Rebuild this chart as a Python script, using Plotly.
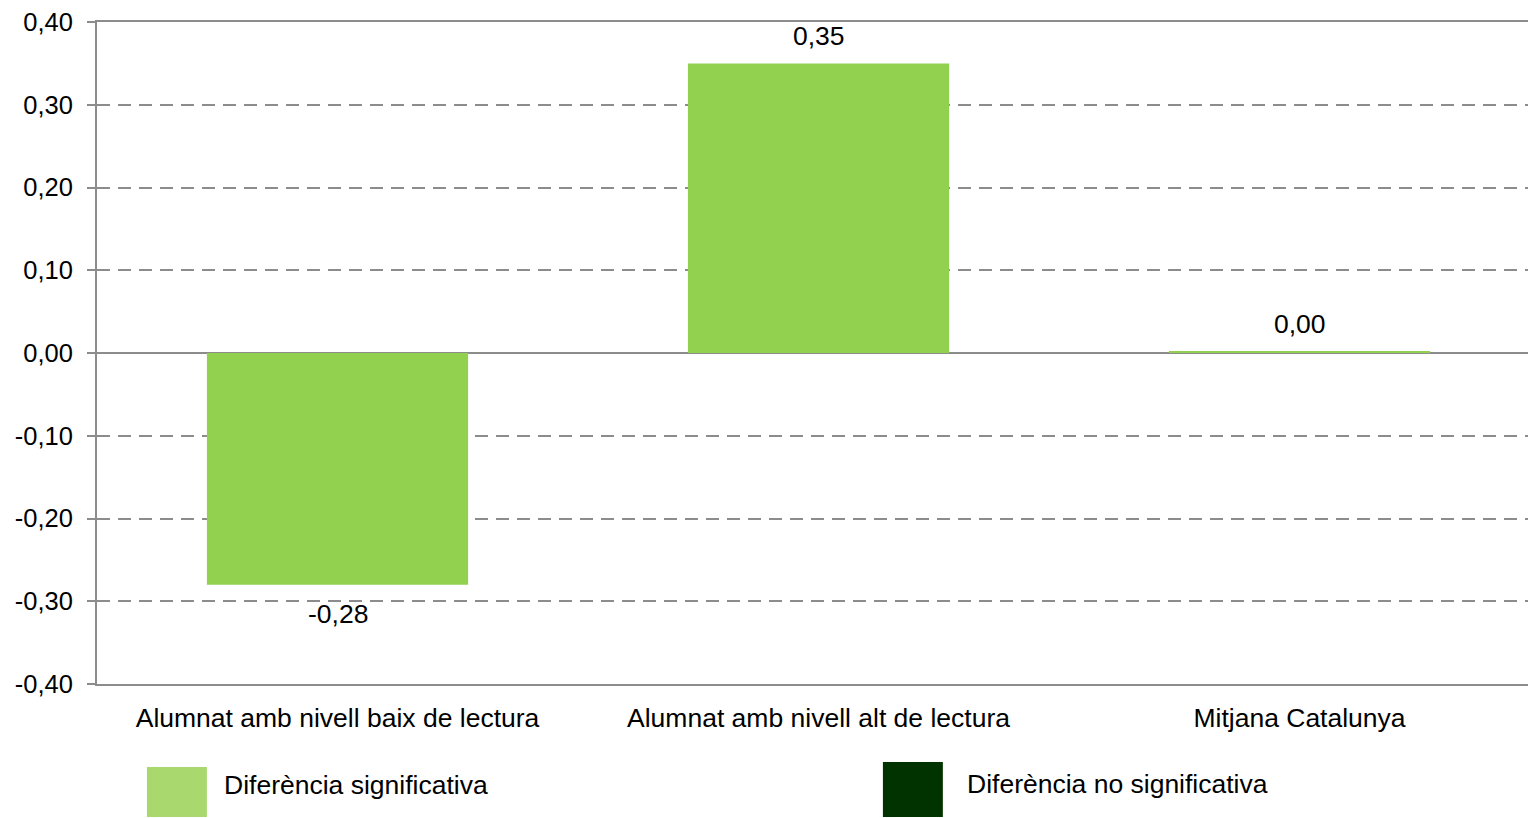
import plotly.graph_objects as go

categories = ["Alumnat amb nivell baix de lectura", "Alumnat amb nivell alt de lectura", "Mitjana Catalunya"]
values = [-0.28, 0.35, 0.002]
value_labels = ["-0,28", "0,35", "0,00"]
tick_vals = [-0.4, -0.3, -0.2, -0.1, 0.0, 0.1, 0.2, 0.3, 0.4]
tick_text = ["-0,40", "-0,30", "-0,20", "-0,10", "0,00", "0,10", "0,20", "0,30", "0,40"]
legend_labels = ["Diferència significativa", "Diferència no significativa"]
legend_colors = ["#A9D86E", "#003300"]

BAR = "#92D050"
GRID = "#8C8C8C"
FONT = "Liberation Sans, Arial, sans-serif"

fig = go.Figure()
fig.add_trace(go.Bar(
    x=categories, y=values, marker=dict(color=BAR, line=dict(width=0)),
    width=0.543, showlegend=False, hoverinfo="skip",
))

for cat, v, lab in zip(categories, values, value_labels):
    fig.add_annotation(x=cat, y=v, text=lab, showarrow=False,
                       xanchor="center", yanchor="middle",
                       yshift=27 if v >= 0 else -29,
                       font=dict(size=26.5, family=FONT, color="black"))

fig.update_layout(
    width=1528, height=818,
    margin=dict(l=97, r=0, t=22, b=134),
    paper_bgcolor="white", plot_bgcolor="white",
    font=dict(family=FONT, size=26.5, color="black"),
    showlegend=False,
)
fig.update_yaxes(
    range=[-0.4, 0.4], tickvals=tick_vals, ticktext=tick_text,
    showgrid=True, gridcolor=GRID, gridwidth=2, griddash="13px,8px",
    zeroline=True, zerolinecolor=GRID, zerolinewidth=2,
    showline=True, linecolor=GRID, linewidth=2,
    ticks="outside", ticklen=8, tickcolor=GRID, tickwidth=2,
    ticklabelstandoff=9, ticklabeloverflow="allow",
    tickfont=dict(size=25.5, family=FONT, color="black"),
)
fig.update_xaxes(
    range=[-0.5, 2.475],
    showline=True, mirror=True, linecolor=GRID, linewidth=2,
    showgrid=False, ticks="", ticklabelstandoff=9,
    tickfont=dict(size=26.5, family=FONT, color="black"),
)

legend_pos = [
    dict(x0=0.0349, x1=0.0768, y0=-0.2009, y1=-0.1254, tx=0.0873, ty=-0.1526),
    dict(x0=0.5492, x1=0.5911, y0=-0.2009, y1=-0.1178, tx=0.6064, ty=-0.1510),
]
for lab, col, p in zip(legend_labels, legend_colors, legend_pos):
    fig.add_shape(type="rect", xref="paper", yref="paper",
                  x0=p["x0"], x1=p["x1"], y0=p["y0"], y1=p["y1"],
                  fillcolor=col, line=dict(width=0))
    fig.add_annotation(xref="paper", yref="paper", x=p["tx"], y=p["ty"],
                       text=lab, showarrow=False, xanchor="left", yanchor="middle",
                       font=dict(size=26.5, family=FONT, color="black"))

fig.write_html("out.html", config={"displayModeBar": False},
               post_script="document.body.style.margin='0';document.body.style.overflow='hidden';")
